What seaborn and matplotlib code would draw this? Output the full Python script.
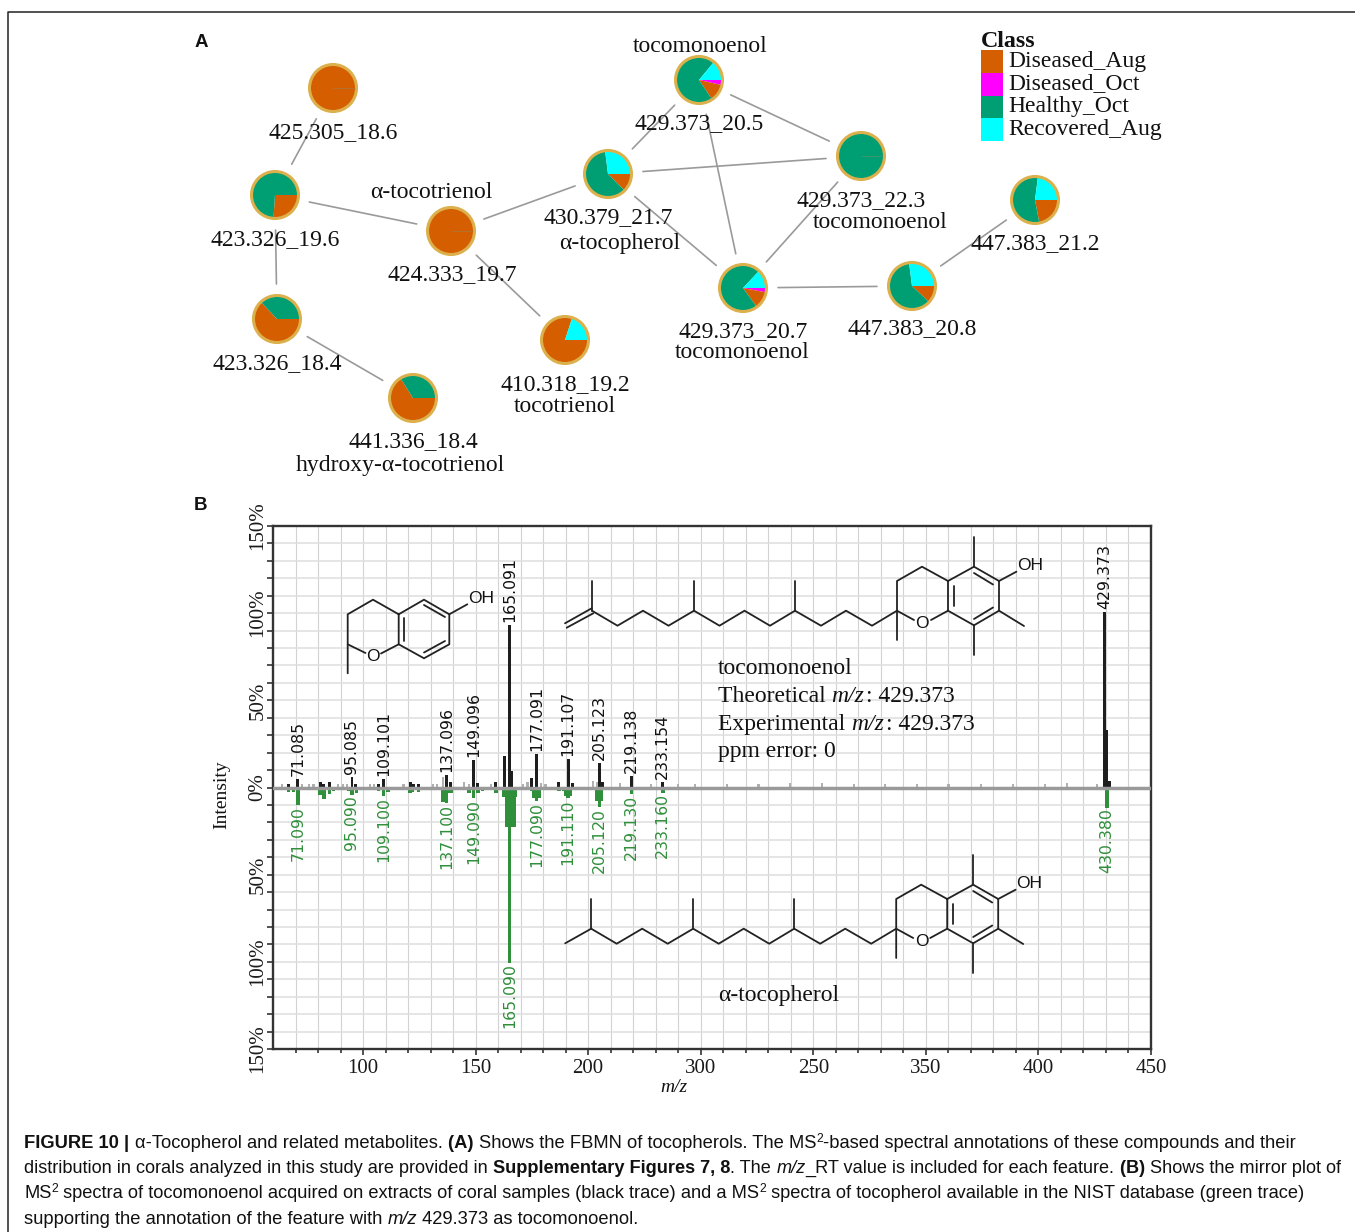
import numpy as np
import matplotlib
matplotlib.use("Agg")
import matplotlib.pyplot as plt
from matplotlib.patches import Circle, Rectangle
import seaborn as sns

# --- donnees du reseau (A)
class_names = ["Diseased_Aug", "Diseased_Oct", "Healthy_Oct", "Recovered_Aug"]
class_colors = ["#d55e00", "#ff00ff", "#009e73", "#00ffff"]

node_names = ["425.305_18.6", "423.326_19.6", "423.326_18.4", "441.336_18.4",
              "424.333_19.7", "410.318_19.2", "430.379_21.7", "429.373_20.5",
              "429.373_22.3", "429.373_20.7", "447.383_20.8", "447.383_21.2"]
diseased_aug = [1.00, 0.26, 0.63, 0.66, 1.00, 0.80, 0.125, 0.12, 0.00, 0.12, 0.12, 0.22]
diseased_oct = [0.00, 0.00, 0.00, 0.00, 0.00, 0.00, 0.00, 0.035, 0.00, 0.03, 0.00, 0.00]
healthy_oct = [0.00, 0.74, 0.37, 0.34, 0.00, 0.00, 0.605, 0.705, 1.00, 0.72, 0.61, 0.55]
recovered_aug = [0.00, 0.00, 0.00, 0.00, 0.00, 0.20, 0.27, 0.14, 0.00, 0.13, 0.27, 0.23]
edges = [("425.305_18.6", "423.326_19.6"), ("423.326_19.6", "424.333_19.7"),
         ("423.326_19.6", "423.326_18.4"), ("423.326_18.4", "441.336_18.4"),
         ("424.333_19.7", "430.379_21.7"), ("424.333_19.7", "410.318_19.2"),
         ("430.379_21.7", "429.373_20.5"), ("430.379_21.7", "429.373_22.3"),
         ("430.379_21.7", "429.373_20.7"), ("429.373_20.5", "429.373_22.3"),
         ("429.373_20.5", "429.373_20.7"), ("429.373_22.3", "429.373_20.7"),
         ("429.373_20.7", "447.383_20.8"), ("447.383_20.8", "447.383_21.2")]

# --- donnees du spectre miroir (B)
black_mz = [67, 71.085, 80.9, 82.6, 85, 95.085, 96.7, 107, 109.101, 121, 122.5, 124.6,
            137.096, 139, 149.096, 151, 159, 163, 165.091, 166.1, 175, 177.091, 187,
            191.107, 193, 205.123, 206.4, 219.138, 233.154, 429.373, 430.38, 431.4]
black_int = [2.2, 5, 3.3, 2.2, 3.3, 6, 2, 2.2, 4.8, 3.3, 2.2, 2.2, 7.3, 3, 15.5, 2.5, 3,
             18.3, 93.3, 9.2, 5.4, 19, 3.4, 16.3, 2.5, 14, 3, 6.7, 3.4, 100.5, 32.7, 4]
gray_mz = [64, 73, 76, 78, 89, 91, 93, 103, 105, 118, 131, 133, 135.5, 145, 147, 157,
           171, 173, 179, 181, 202, 204, 214, 228, 240, 247.4, 261.6, 275.7, 289.7,
           303.8, 318, 332, 346, 360, 374.4, 388.7, 402.9, 412.7, 426]
gray_int = [1.8, 2, 1.8, 2, 2, 2.2, 2, 1.8, 2.2, 2, 2, 2.2, 6.3, 3, 2.2, 1.8, 2, 3,
            2.5, 2.2, 4, 3.2, 2.5, 1.8, 2, 2.2, 2, 2.2, 2.6, 2.8, 2, 2, 2, 2, 2, 2,
            2, 2.8, 2]
green_mz = [67, 69, 71.09, 80.9, 82.7, 85, 87, 93.4, 95.09, 97, 107, 109.1, 111, 120.8,
            122, 124.7, 135.5, 136.4, 137.1, 138.2, 139, 147, 149.09, 151, 153, 159, 162.5, 163.7,
            164.8, 165.09, 166.2, 167, 167.8, 175, 176, 177.09, 178.2, 187, 189, 190, 191.11, 192,
            204, 205.12, 206, 219.13, 233.16, 430.38]
green_int = [2.3, 2.3, 10, 4.2, 6.7, 3.6, 1.8, 1.8, 4.2, 3, 2, 5, 2.5, 3, 2.5, 2.5,
             8.5, 8.5, 8.8, 3, 3, 3, 6.3, 3, 2, 3.3, 5.5, 22.5, 22.5, 100.5, 22.5, 22.5, 5.5,
             2, 6, 7.8, 6, 2, 1.8, 5, 6.3, 5, 8, 11.3, 7.5, 4, 3, 11.5]
black_labeled = [71.085, 95.085, 109.101, 137.096, 149.096, 165.091, 177.091, 191.107,
                 205.123, 219.138, 233.154, 429.373]
green_labeled = [71.09, 95.09, 109.1, 137.1, 149.09, 165.09, 177.09, 191.11, 205.12,
                 219.13, 233.16, 430.38]
x_major = [100, 150, 200, 250, 300, 350, 400, 450]
x_labels = ["100", "150", "200", "300", "250", "350", "400", "450"]
y_major = [-150, -100, -50, 0, 50, 100, 150]
y_labels = ["150%", "100%", "50%", "0%", "50%", "100%", "150%"]

# --- mise en page (pixels de la figure)
W, H = 1355, 1232
SERIF = "Liberation Serif"
SANS = "Liberation Sans"
GREEN = "#2f8f3a"
node_pos = {"425.305_18.6": (333, 88), "423.326_19.6": (275, 195), "423.326_18.4": (277, 319),
            "441.336_18.4": (413, 398), "424.333_19.7": (451, 231), "410.318_19.2": (565, 340),
            "430.379_21.7": (608, 174), "429.373_20.5": (699, 80), "429.373_22.3": (861, 156),
            "429.373_20.7": (743, 288), "447.383_20.8": (912, 286), "447.383_21.2": (1035, 200)}
node_text = [("425.305_18.6", 333, 131), ("423.326_19.6", 275, 238), ("423.326_18.4", 277, 362),
             ("441.336_18.4", 413, 440), ("hydroxy-α-tocotrienol", 400, 464),
             ("α-tocotrienol", 431, 191), ("424.333_19.7", 452, 273), ("410.318_19.2", 565, 383),
             ("tocotrienol", 565, 404), ("430.379_21.7", 608, 216), ("α-tocopherol", 620, 241),
             ("tocomonoenol", 700, 44), ("429.373_20.5", 699, 122), ("429.373_22.3", 861, 199),
             ("tocomonoenol", 880, 221), ("447.383_21.2", 1035, 242), ("447.383_20.8", 912, 327),
             ("429.373_20.7", 743, 330), ("tocomonoenol", 742, 351)]

sns.set_theme(style="whitegrid")
plt.rcParams["font.family"] = ["Liberation Serif", "DejaVu Sans"]

fig = plt.figure(figsize=(W / 100, H / 100), dpi=100, facecolor="white")
ax = fig.add_axes([273 / W, (H - 1049) / H, 878 / W, 523 / H])


def draw_peaks(mz, values, color, bar_width):
    # barplot en echelle native, la largeur est relative au plus petit ecart
    mz = np.array(mz, dtype=float)
    min_gap = np.diff(np.unique(mz)).min()
    sns.barplot(x=mz, y=np.array(values, dtype=float), native_scale=True, errorbar=None,
                width=bar_width / min_gap, color=color, saturation=1, zorder=2,
                linewidth=0, ax=ax)


draw_peaks(gray_mz, gray_int, "#b0b0b0", 1.0)
draw_peaks(black_mz, black_int, "#1e1e1e", 1.3)
draw_peaks(green_mz, -np.array(green_int), GREEN, 1.5)
ax.axhline(0, color="#9a9a9a", lw=2.5, zorder=3)

ax.set_xlim(60, 450)
ax.set_ylim(-150, 150)
ax.set_xticks(x_major, labels=x_labels)
ax.set_xticks(np.arange(70, 450, 10), minor=True)
ax.set_yticks(y_major, labels=y_labels, rotation=90, va="center")
ax.set_yticks(np.arange(-140, 150, 10), minor=True)
ax.set_axisbelow(True)
ax.xaxis.grid(True, which="both", color="#d2d2d2", lw=0.8)
ax.yaxis.grid(True, which="both", color="#dedede", lw=1.1)
ax.tick_params(axis="both", which="both", direction="out", bottom=True, left=True,
               color="#333333", width=1.2, length=4, labelsize=15, pad=3,
               labelcolor="#1a1a1a")
ax.tick_params(axis="y", which="major", pad=0)
ax.tick_params(axis="x", which="minor", length=3)
for spine in ax.spines.values():
    spine.set_color("#333333")
    spine.set_linewidth(1.7)
ax.set_xlabel("")
ax.set_ylabel("")

black_lookup = dict(zip(black_mz, black_int))
green_lookup = dict(zip(green_mz, green_int))
for mz in black_labeled:
    ax.annotate(f"{mz:.3f}", (mz, black_lookup[mz]), xytext=(0, 2.2), textcoords="offset points",
                rotation=90, ha="center", va="bottom", family="DejaVu Sans", fontsize=11.3,
                color="#111111", zorder=5)
for mz in green_labeled:
    ax.annotate(f"{mz:.3f}", (mz, -green_lookup[mz]), xytext=(0, -0.5), textcoords="offset points",
                rotation=90, ha="center", va="top", family="DejaVu Sans", fontsize=11.3,
                color=GREEN, zorder=5)

# --- calque en pixels pour le reseau, les structures et les textes
over = fig.add_axes([0, 0, 1, 1], facecolor="none")


def py(y):
    return H - y


def label(x, y, s, **kw):
    opts = dict(ha="center", va="center", family=SERIF, fontsize=17, color="#111111")
    opts.update(kw)
    return over.text(x, py(y + 2), s, **opts)


# bordure du panneau
over.plot([8, 8, W], [py(H), py(12), py(12)], color="#222222", lw=1.1)

# aretes raccourcies autour des noeuds
for a, b in edges:
    p, q = np.array(node_pos[a], float), np.array(node_pos[b], float)
    unit = (q - p) / np.linalg.norm(q - p)
    s, e = p + unit * 35, q - unit * 35
    over.plot([s[0], e[0]], [py(s[1]), py(e[1])], color="#9a9a9a", lw=1.2, zorder=2)

# noeuds en camembert, sens horaire depuis 3 h
slice_colors = [class_colors[1], class_colors[0], class_colors[2], class_colors[3]]
for i, name in enumerate(node_names):
    x, y = node_pos[name]
    fractions = [diseased_oct[i], diseased_aug[i], healthy_oct[i], recovered_aug[i]]
    over.pie(fractions, colors=slice_colors, center=(x, py(y)), radius=23.5, startangle=0,
             counterclock=False, frame=True, normalize=True,
             wedgeprops=dict(linewidth=0, zorder=3))
    over.add_patch(Circle((x, py(y)), 23.5, fc="none", ec="#dcb04c", lw=2.2, zorder=4))
    if max(fractions) == 1:
        over.plot([x, x + 22], [py(y), py(y)], color="#8a8a6a", lw=0.5, alpha=0.6, zorder=4)

for s, x, y in node_text:
    label(x, y, s, zorder=6)

# legende
over.text(981, py(47), "Class", family=SERIF, fontsize=17.3, weight="bold", color="#111111",
          va="baseline", ha="left", zorder=6)
for i, (name, col) in enumerate(zip(class_names, class_colors)):
    top = 50 + i * 22.75
    over.add_patch(Rectangle((981, py(top + 22.75)), 22, 22.75, fc=col, ec="none", zorder=4))
    label(1008, top + 9, name, ha="left", fontsize=17, zorder=6)

# lettres de panneaux
over.text(195, py(47), "A", family=SANS, weight="bold", fontsize=13.5, color="#111111")
over.text(194, py(510), "B", family=SANS, weight="bold", fontsize=13.5, color="#111111")

# titres d'axes
label(222, 793, "Intensity", rotation=90, fontsize=14)
label(674, 1085, "m/z", style="italic", fontsize=14)


# --- structures chimiques
def bonds(paths, dx=0.0, dy=0.0):
    for path in paths:
        xs = [p[0] + dx for p in path]
        ys = [py(p[1] + dy) for p in path]
        over.plot(xs, ys, color="#222222", lw=1.3, solid_capstyle="round", zorder=4)


ring_paths = [
    [(897, 640), (897, 581), (922, 566.7), (948, 581), (974, 566.7), (999, 581), (999, 610.7),
     (974, 625.3), (948, 610.7), (948, 581)],
    [(897, 610.7), (914, 620)], [(948, 610.7), (931, 620)],
    [(974, 566.7), (974, 537)], [(974, 625.3), (974, 655)], [(999, 610.7), (1024, 626)],
    [(999, 581), (1016.4, 571.7)],
    [(953.5, 586), (953.5, 606)], [(974, 573), (993, 584.5)], [(974, 619), (993, 607.5)],
]
chain_x = [897, 872, 846, 821, 795, 770, 744.5, 719.5, 694, 668.5, 643, 617.5, 592]
chain_y = [610.7 if i % 2 == 0 else 625.7 for i in range(len(chain_x))]
chain_paths = [list(zip(chain_x, chain_y)), [(795, 610.7), (795, 581)], [(694, 610.7), (694, 581)],
               [(592, 610.7), (592, 581)]]
# tocomonoenol, insaturation terminale
bonds(ring_paths + chain_paths + [[(591.7, 608.3), (565, 623.3)], [(593.3, 613.3), (566.7, 627.7)]])
label(922, 622, "O", family=SANS, fontsize=12.5, zorder=5)
label(1030.5, 563, "OH", family=SANS, fontsize=12.5, zorder=5)
# alpha-tocopherol
bonds(ring_paths + chain_paths + [[(592, 610.7), (566, 625.3)]], dx=-0.8, dy=318)
label(921.5, 940, "O", family=SANS, fontsize=12.5, zorder=5)
label(1029.5, 881, "OH", family=SANS, fontsize=12.5, zorder=5)
# noyau chromanol
bonds([[(347.7, 673.3), (347.7, 614.3), (373, 599.7), (398.7, 614.3), (424, 599.7), (449.3, 614.3),
        (449.3, 644.3), (424, 658.3), (398.7, 644.3), (398.7, 614.3)],
       [(347.7, 644.3), (365.5, 653)], [(398.7, 644.3), (381, 653.5)],
       [(449.3, 614.3), (467.3, 604.3)], [(403.5, 618), (403.5, 641)],
       [(424, 605), (445, 617)], [(424, 652.5), (445, 641)]])
label(373, 654.5, "O", family=SANS, fontsize=12.5, zorder=5)
label(481, 596.5, "OH", family=SANS, fontsize=12.5, zorder=5)


# --- texte par segments (gras, italique, exposant)
def draw_runs(x, y, runs, family, size):
    renderer = fig.canvas.get_renderer()
    probe = over.text(0, 0, "|", family=family, fontsize=size)
    bar = probe.get_window_extent(renderer).width
    for s, opts in runs:
        opts = dict(opts)
        rise = opts.pop("rise", 0)
        fs = opts.pop("fontsize", size)
        t = over.text(x, py(y) + rise, s, family=family, fontsize=fs, va="baseline", ha="left",
                      color="#111111", zorder=6, **opts)
        probe.set_fontproperties(t.get_fontproperties())
        probe.set_text(s + "|")
        x += probe.get_window_extent(renderer).width - bar * fs / size
    probe.remove()


label(718, 666, "tocomonoenol", ha="left")
draw_runs(718, 702, [("Theoretical ", {}), ("m/z", {"style": "italic"}), (": 429.373", {})], SERIF, 17)
draw_runs(718, 730, [("Experimental ", {}), ("m/z", {"style": "italic"}), (": 429.373", {})], SERIF, 17)
label(718, 750, "ppm error: 0", ha="left")
label(718, 993, "α-tocopherol", ha="left")

bold = {"weight": "bold"}
ital = {"style": "italic"}
sup = {"fontsize": 8.8, "rise": 6}
draw_runs(24, 1148, [("FIGURE 10 | ", bold), ("α-Tocopherol and related metabolites. ", {}), ("(A) ", bold),
                     ("Shows the FBMN of tocopherols. The MS", {}), ("2", sup),
                     ("-based spectral annotations of these compounds and their", {})], SANS, 13.22)
draw_runs(24, 1173, [("distribution in corals analyzed in this study are provided in ", {}),
                     ("Supplementary Figures 7, 8", bold), (". The ", {}), ("m/z", ital),
                     ("_RT value is included for each feature. ", {}), ("(B) ", bold),
                     ("Shows the mirror plot of", {})], SANS, 13.1)
draw_runs(24, 1198, [("MS", {}), ("2", sup),
                     (" spectra of tocomonoenol acquired on extracts of coral samples (black trace) and a MS", {}),
                     ("2", sup), (" spectra of tocopherol available in the NIST database (green trace)", {})],
          SANS, 13.15)
draw_runs(24, 1224, [("supporting the annotation of the feature with ", {}), ("m/z", ital),
                     (" 429.373 as tocomonoenol.", {})], SANS, 13.25)

over.set_xlim(0, W)
over.set_ylim(0, H)
over.set_aspect("auto")
over.axis("off")

fig.savefig("out.png", dpi=100, facecolor="white")
